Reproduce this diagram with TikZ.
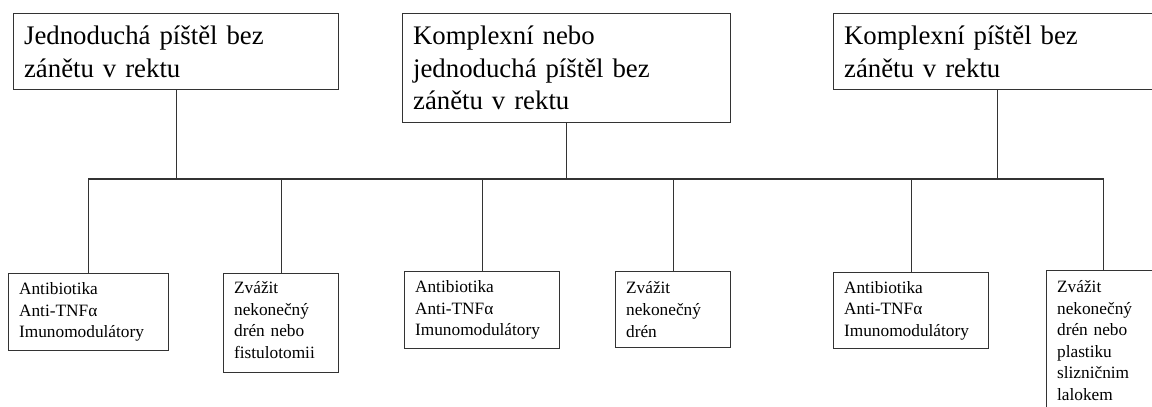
\documentclass[tikz,border=0pt]{standalone}
\usepackage{fontspec}
\setmainfont{Liberation Serif}

\tikzset{
  box/.style={draw=black!80, line width=0.6pt, align=left, anchor=north west,
    inner xsep=5.25pt, inner ysep=0pt},
  topbox/.style={box, font=\fontsize{13.4}{16.25}\selectfont},
  lowbox/.style={box, font=\fontsize{8.65}{10.8}\selectfont},
  link/.style={draw=black!80, line width=0.6pt}
}

\begin{document}
\begin{tikzpicture}[x=0.5pt,y=-0.5pt]
            \useasboundingbox (0,0) rectangle (1152,407);
            \clip (0,0) rectangle (1152,407);

            % Horni boxy
            \node[topbox, text width=152pt, minimum height=38pt] (t1) at (13,13)
              {Jednoduchá píštěl bez\\zánětu v rektu};
            \node[topbox, text width=153.5pt, minimum height=54.5pt] (t2) at (402,13)
              {Komplexní nebo\\jednoduchá píštěl bez\\zánětu v rektu};
            \node[topbox, text width=153.5pt, minimum height=38pt] (t3) at (833,13)
              {Komplexní píštěl bez\\zánětu v rektu};

            % Dolni boxy (lecba)
            \node[lowbox, text width=69.5pt, minimum height=38.5pt] (b1) at (8,273)
              {Antibiotika\\Anti-TNFα\\Imunomodulátory};
            \node[lowbox, text width=47pt, minimum height=49.5pt] (b2) at (223,273)
              {Zvážit\\nekonečný\\drén nebo\\fistulotomii\strut};
            \node[lowbox, text width=67pt, minimum height=38.5pt] (b3) at (404,271)
              {Antibiotika\\Anti-TNFα\\Imunomodulátory};
            \node[lowbox, text width=47pt, minimum height=38pt] (b4) at (615,271)
              {Zvážit\\nekonečný\\drén};
            \node[lowbox, text width=67pt, minimum height=38pt] (b5) at (833,272)
              {Antibiotika\\Anti-TNFα\\Imunomodulátory};
            \node[lowbox, text width=46.5pt, minimum height=70pt] (b6) at (1046,270)
              {Zvážit\\nekonečný\\drén nebo\\plastiku\\slizničnim\\lalokem};

            % Sbernice
            \coordinate (bus) at (0,179);
            \draw[link] (b1.north) -- (b1.north |- bus) -- (b6.north |- bus) -- (b6.north);

            % Spojnice k sbernici
            \foreach \n in {t1,t2,t3}
              \draw[link] (\n.south) -- (\n.south |- bus);
            \foreach \n in {b2,b3,b4,b5}
              \draw[link] (\n.north) -- (\n.north |- bus);
\end{tikzpicture}
\end{document}
